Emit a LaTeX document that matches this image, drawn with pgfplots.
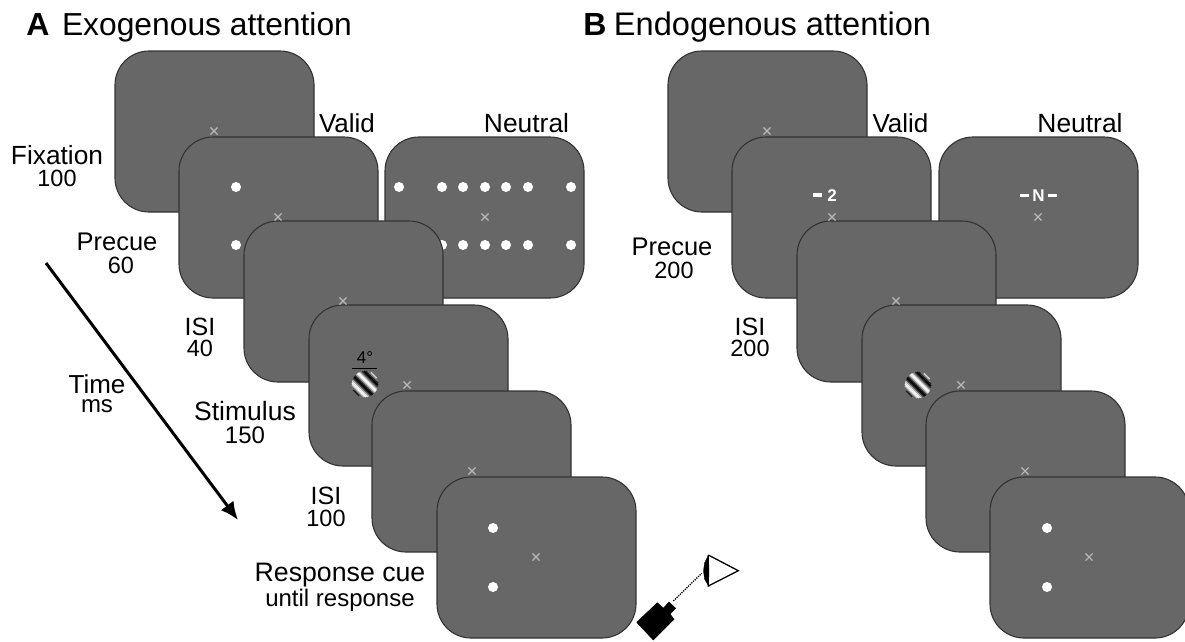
\documentclass[border=0pt]{standalone}
\usepackage{pgfplots}
\pgfplotsset{compat=1.18}
\usetikzlibrary{arrows.meta}
\usepackage{fontspec}
\setmainfont{Liberation Sans}
\definecolor{pan}{HTML}{676767}
\definecolor{edg}{HTML}{333333}
\definecolor{xc}{HTML}{B8B8B8}
\newcommand{\lbl}[5][]{\node[anchor=base,inner sep=0pt,#1] at (axis cs:#2,#3) {\fontsize{#4}{#4}\selectfont #5};}
% rounded panel: x0 y0 (top-left)
\newcommand{\panel}[2]{%
 \pgfmathsetmacro{\xa}{#1}\pgfmathsetmacro{\xb}{#1+199}\pgfmathsetmacro{\xm}{#1+100}%
 \pgfmathsetmacro{\ya}{#2}\pgfmathsetmacro{\yb}{#2+161}%
 \edef\tmp{\noexpand\addplot[draw=edg,line width=1.1pt,fill=pan,rounded corners=34pt,mark=none] coordinates {(\xm,\ya) (\xb,\ya) (\xb,\yb) (\xa,\yb) (\xa,\ya) (\xm,\ya)};}\tmp}
\newcommand{\xmk}[2]{\addplot[only marks,mark=x,mark size=5pt,xc,mark options={line width=1.1pt}] coordinates {(#1,#2)};}
% a dot is a round-capped stroke, so that later panels cover it in drawing order
\newcommand{\wdot}[2]{\addplot[white,line width=10pt,line cap=round] coordinates {(#1,#2) (#1.02,#2)};}
\newcommand{\chord}[6]{\addplot[line width=#6pt,color=black!#5!white,line cap=butt] coordinates {(#1,#2) (#3,#4)};}
\newcommand{\grating}[2]{%
 \foreach \dd/\gv in {-12.35/89,-11.05/59,-9.75/23,-8.45/2,-7.15/6,-5.85/33,-4.55/70,-3.25/95,-1.95/98,-0.65/75,0.65/39,1.95/8,3.25/0,4.55/19,5.85/53,7.15/86,8.45/100,9.75/88,11.05/55,12.35/21}{%
  \pgfmathsetmacro{\hh}{sqrt(max(169-\dd*\dd,1))}%
  \pgfmathsetmacro{\xx}{#1+0.707*\dd-0.707*\hh}\pgfmathsetmacro{\yy}{#2-0.707*\dd-0.707*\hh}%
  \pgfmathsetmacro{\xz}{#1+0.707*\dd+0.707*\hh}\pgfmathsetmacro{\yz}{#2-0.707*\dd+0.707*\hh}%
  \edef\tmp{\noexpand\chord{\xx}{\yy}{\xz}{\yz}{\gv}{1.5}}\tmp
 }}
\begin{document}
\begin{tikzpicture}
\useasboundingbox (0,0) rectangle (1185pt,641pt);
\begin{axis}[at={(0,0)},anchor=south west,scale only axis,width=1185pt,height=641pt,
 xmin=0,xmax=1185,ymin=0,ymax=641,y dir=reverse,hide axis,clip=false]
% Panel A
\panel{115}{51}\xmk{214}{131}
\panel{179}{137}\xmk{278}{217}\wdot{236}{187}\wdot{236}{245}
\panel{385}{137}\xmk{485}{217}
\wdot{399}{187}\wdot{442}{187}\wdot{463}{187}\wdot{485}{187}\wdot{506}{187}\wdot{528}{187}\wdot{571}{187}
\wdot{442}{245}\wdot{463}{245}\wdot{485}{245}\wdot{506}{245}\wdot{528}{245}\wdot{571}{245}
\panel{244}{221}\xmk{343}{301}
\panel{309}{305}\xmk{407}{385}\grating{365}{384}
\addplot[black,line width=1pt] coordinates {(352,368) (377,368)};
\panel{372}{391}\xmk{472}{471}
\panel{437}{477}\xmk{536}{557}\wdot{493}{528}\wdot{493}{587}
% Panel B
\panel{668}{51}\xmk{767}{131}
\panel{732}{137}\xmk{832}{217}
\addplot[white,line width=3.4pt] coordinates {(813,195) (822,195)};
\panel{939}{137}\xmk{1038}{217}
\addplot[white,line width=3pt] coordinates {(1020,195) (1029,195)};
\addplot[white,line width=3pt] coordinates {(1048,195) (1057,195)};
\panel{797}{221}\xmk{896}{301}
\panel{862}{305}\xmk{961}{385}\grating{918}{385}
\panel{926}{391}\xmk{1025}{471}
\panel{990}{477}\xmk{1089}{557}\wdot{1047}{528}\wdot{1047}{587}
% arrow
\addplot[black,line width=3pt,-{Latex[length=18pt,width=16pt]}] coordinates {(46,263) (238,520)};
% camera and eye
\addplot[black,fill=black,line width=0.5pt] coordinates {(636.7,622.3) (657.3,602.7) (663.3,608.3) (669,602) (675.7,608.3) (670,614) (674,619.3) (653.3,640) (636.7,622.3)};
\addplot[black,densely dotted,line width=1.3pt] coordinates {(673.3,601) (701.7,573.3)};
\addplot[black,fill=white,line width=1.3pt] coordinates {(708.3,555) (738.3,570.7) (708.3,586) (708.3,555)};
\addplot[black,fill=black,line width=0.3pt] coordinates {(708,556) (704.5,563) (703.5,571) (704.5,579) (708,585) (708.8,579) (709,571) (708.8,563) (708,556)};
% text
\lbl{38}{35}{32}{\textbf{A}}
\lbl{207}{35}{31.8}{Exogenous attention}
\lbl{595}{35}{32}{\textbf{B}}
\lbl{772.5}{35}{32.6}{Endogenous attention}
\lbl{57}{164}{26.3}{Fixation}
\lbl{57}{186}{23.5}{100}
\lbl{347}{132}{26}{Valid}
\lbl{526.5}{132}{26.4}{Neutral}
\lbl{900.5}{132}{26}{Valid}
\lbl{1080}{132}{26.4}{Neutral}
\lbl{117}{250}{25.5}{Precue}
\lbl{121}{273}{23.5}{60}
\lbl{200}{335}{25}{ISI}
\lbl{200}{356}{23.5}{40}
\lbl{97}{393}{26}{Time}
\lbl{97}{412}{24}{ms}
\lbl{245}{420}{26.5}{Stimulus}
\lbl{245}{443}{24}{150}
\lbl{326}{504}{25}{ISI}
\lbl{326}{526}{23.5}{100}
\lbl{340}{581}{26.7}{Response cue}
\lbl{340}{606}{24}{until response}
\lbl{672}{255}{25.5}{Precue}
\lbl{674}{278}{23.5}{200}
\lbl{750}{335}{25}{ISI}
\lbl{750}{356}{23.5}{200}
\lbl{365}{363}{17}{4°}
\lbl[text=white]{832}{201.5}{17}{\textbf{2}}
\lbl[text=white]{1038.5}{201.5}{17}{\textbf{N}}
\end{axis}
\end{tikzpicture}
\end{document}
